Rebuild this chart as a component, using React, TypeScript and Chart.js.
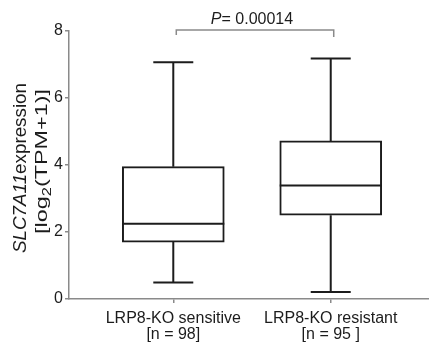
import React, { useEffect, useRef } from 'react';
import { Chart, registerables } from 'chart.js';

Chart.register(...registerables);

// ---- data ----
const categories = ['LRP8-KO sensitive', 'LRP8-KO resistant'];
const sampleSizes = ['[n = 98]', '[n = 95 ]'];
const categoryPositions = [1, 2];
const whiskerMin = [0.49, 0.21];
const quartile1 = [1.7, 2.5];
const medians = [2.25, 3.39];
const quartile3 = [3.95, 4.72];
const whiskerMax = [7.07, 7.18];
const yTickValues = [0, 2, 4, 6, 8];
const pValueText = '0.00014';
const bracketLevel = 8.03;
const bracketDrops = [7.88, 7.82];

const FONT = '"Liberation Sans", Arial, Helvetica, sans-serif';
const AXIS_GRAY = '#8a8a8a';
const INK = '#1c1c1c';

const boxPlugin = {
  id: 'boxWhiskers',
  afterDatasetsDraw(chart: any) {
    const { ctx } = chart;
    const xs = chart.scales.x;
    const ys = chart.scales.y;
    ctx.save();
    ctx.strokeStyle = INK;
    ctx.lineWidth = 2;
    ctx.lineCap = 'butt';
    categoryPositions.forEach((pos, i) => {
      const x = xs.getPixelForValue(pos);
      const capHalf = 20;
      const boxHalf = 51;
      ctx.beginPath();
      ctx.moveTo(x, ys.getPixelForValue(whiskerMax[i]));
      ctx.lineTo(x, ys.getPixelForValue(quartile3[i]));
      ctx.moveTo(x, ys.getPixelForValue(quartile1[i]));
      ctx.lineTo(x, ys.getPixelForValue(whiskerMin[i]));
      ctx.moveTo(x - capHalf, ys.getPixelForValue(whiskerMax[i]));
      ctx.lineTo(x + capHalf, ys.getPixelForValue(whiskerMax[i]));
      ctx.moveTo(x - capHalf, ys.getPixelForValue(whiskerMin[i]));
      ctx.lineTo(x + capHalf, ys.getPixelForValue(whiskerMin[i]));
      ctx.moveTo(x - boxHalf, ys.getPixelForValue(medians[i]));
      ctx.lineTo(x + boxHalf, ys.getPixelForValue(medians[i]));
      ctx.stroke();
    });
    ctx.restore();
  },
};

function drawRun(ctx: any, segs: any[], size: number, cx: number, cy: number, target: number) {
  const fontFor = (s: any) =>
    `${s.italic ? 'italic ' : ''}${s.sub ? Math.round(size * 0.68) : size}px ${FONT}`;
  let w = 0;
  segs.forEach((s) => {
    ctx.font = fontFor(s);
    s.w = ctx.measureText(s.t).width;
    w += s.w;
  });
  ctx.save();
  ctx.translate(cx, cy);
  ctx.rotate(-Math.PI / 2);
  ctx.scale(target / w, 1);
  ctx.textBaseline = 'alphabetic';
  ctx.textAlign = 'left';
  ctx.fillStyle = INK;
  let x = -w / 2;
  segs.forEach((s) => {
    ctx.font = fontFor(s);
    ctx.fillText(s.t, x, s.sub ? size * 0.25 : 0);
    x += s.w;
  });
  ctx.restore();
}

const annotationPlugin = {
  id: 'annotations',
  afterDraw(chart: any) {
    const { ctx, chartArea } = chart;
    const xs = chart.scales.x;
    const ys = chart.scales.y;
    const cy = (chartArea.top + chartArea.bottom) / 2;

    // y-axis title (two lines, rotated)
    drawRun(
      ctx,
      [
        { t: 'SLC7A11', italic: true },
        { t: 'expression' },
      ],
      18,
      26,
      cy + 3,
      170
    );
    drawRun(
      ctx,
      [{ t: '[log' }, { t: '2', sub: true }, { t: '(TPM+1)]' }],
      17,
      47,
      cy - 3.5,
      145
    );

    // significance bracket
    const x1 = xs.getPixelForValue(categoryPositions[0]) + 3;
    const x2 = xs.getPixelForValue(categoryPositions[1]) + 3;
    const yb = ys.getPixelForValue(bracketLevel);
    ctx.save();
    ctx.strokeStyle = AXIS_GRAY;
    ctx.lineWidth = 1.5;
    ctx.beginPath();
    ctx.moveTo(x1, ys.getPixelForValue(bracketDrops[0]));
    ctx.lineTo(x1, yb);
    ctx.lineTo(x2, yb);
    ctx.lineTo(x2, ys.getPixelForValue(bracketDrops[1]));
    ctx.stroke();

    const size = 16;
    ctx.fillStyle = INK;
    ctx.textBaseline = 'alphabetic';
    ctx.textAlign = 'left';
    ctx.font = `italic ${size}px ${FONT}`;
    const wp = ctx.measureText('P').width;
    ctx.font = `${size}px ${FONT}`;
    const rest = '= ' + pValueText;
    const wr = ctx.measureText(rest).width;
    const tx = (x1 + x2) / 2 - (wp + wr) / 2 - 3;
    const ty = yb - 6;
    ctx.font = `italic ${size}px ${FONT}`;
    ctx.fillText('P', tx, ty);
    ctx.font = `${size}px ${FONT}`;
    ctx.fillText(rest, tx + wp, ty);
    ctx.restore();
  },
};

export default function App() {
  const canvasRef = useRef<HTMLCanvasElement | null>(null);

  useEffect(() => {
    if (!canvasRef.current) return;
    const chart = new Chart(canvasRef.current, {
      type: 'bar',
      data: {
        datasets: [
          {
            label: 'IQR',
            data: categoryPositions.map((p, i) => ({ x: p, y: [quartile1[i], quartile3[i]] })) as any,
            backgroundColor: '#ffffff',
            borderColor: INK,
            borderWidth: 2,
            borderSkipped: false,
            barThickness: 102,
          },
        ],
      },
      options: {
        animation: false,
        responsive: true,
        maintainAspectRatio: false,
        layout: { padding: { top: 31, left: 0, right: 0, bottom: 0 } },
        plugins: {
          legend: { display: false },
          tooltip: { enabled: false },
          title: { display: false },
        },
        scales: {
          x: {
            type: 'linear',
            offset: false,
            min: 0.3376,
            max: 2.6242,
            afterBuildTicks: (scale: any) => {
              scale.ticks = categoryPositions.map((v) => ({ value: v }));
            },
            afterFit: (scale: any) => {
              scale.height = 48;
            },
            ticks: {
              autoSkip: false,
              maxRotation: 0,
              padding: 8,
              color: INK,
              font: { family: FONT, size: 16, lineHeight: 1.0 },
              callback: (value: any) => {
                const i = categoryPositions.indexOf(Number(value));
                return i >= 0 ? [categories[i], sampleSizes[i]] : '';
              },
            },
            grid: {
              display: true,
              offset: false,
              drawOnChartArea: false,
              drawTicks: true,
              tickLength: 4,
              color: AXIS_GRAY,
              lineWidth: 1.5,
            },
            border: { display: true, color: AXIS_GRAY, width: 1.5 },
          },
          y: {
            type: 'linear',
            min: 0,
            max: 8,
            afterBuildTicks: (scale: any) => {
              scale.ticks = yTickValues.map((v) => ({ value: v }));
            },
            afterFit: (scale: any) => {
              scale.width = 69;
            },
            ticks: {
              padding: 2,
              color: INK,
              font: { family: FONT, size: 16 },
            },
            grid: {
              display: true,
              drawOnChartArea: false,
              drawTicks: true,
              tickLength: 4,
              color: AXIS_GRAY,
              lineWidth: 1.5,
            },
            border: { display: true, color: AXIS_GRAY, width: 1.5 },
          },
        },
      },
      plugins: [boxPlugin, annotationPlugin],
    } as any);
    return () => chart.destroy();
  }, []);

  return (
    <div style={{ position: 'fixed', left: 0, top: 0, width: 429, height: 347, background: '#fff' }}>
      <canvas ref={canvasRef} />
    </div>
  );
}
